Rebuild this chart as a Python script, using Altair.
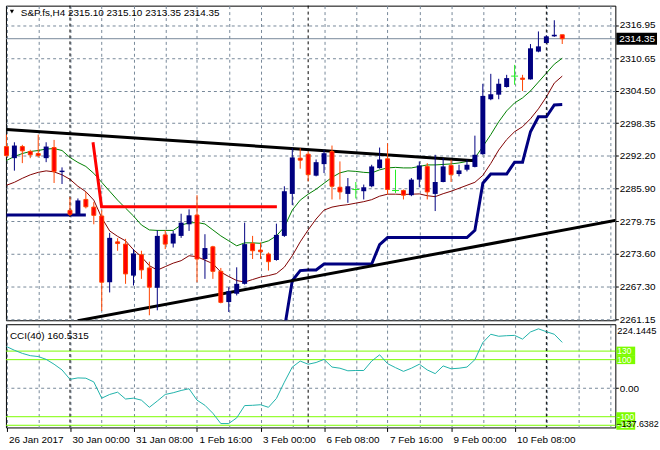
import altair as alt
import numpy as np
import pandas as pd

FONT = "Liberation Sans"
GRID = "#778899"
NAVY = "#000080"
BEAR_EDGE = "#FF4500"
BEAR_FILL = "#FF0000"
DOJI = "#22EE22"
MA_FAST_C = "#008000"
MA_SLOW_C = "#800000"
LEVEL_C = "#7CFC00"
CCI_C = "#20B2AA"

# ---------------- data ----------------
bars = list(range(71))
open_ = [2293.90, 2291.70, 2293.90, 2292.96, 2292.58, 2291.70, 2293.71, 2289.06, 2281.80, 2281.05,
         2283.87, 2282.42, 2280.73, 2268.17, 2275.83, 2275.40, 2269.43, 2273.39, 2270.88, 2267.12,
         2277.15, 2275.51, 2276.96, 2279.16, 2280.91, 2272.58, 2274.89, 2270.24, 2264.41, 2265.99,
         2267.87, 2275.51, 2274.27, 2273.52, 2272.39, 2276.96, 2284.92, 2291.70, 2292.45, 2288.38,
         2290.57, 2292.96, 2286.18, 2284.92, 2285.75, 2285.43, 2286.37, 2289.81, 2291.58, 2285.56,
         2285.56, 2284.68, 2287.63, 2290.13, 2284.92, 2287.18, 2290.32, 2288.69, 2289.51, 2290.04,
         2292.45, 2302.87, 2303.74, 2305.19, 2307.26, 2306.88, 2306.64, 2311.91, 2313.53, 2314.80,
         2315.10]
high_ = [2296.16, 2294.71, 2294.22, 2293.28, 2296.16, 2294.71, 2295.16, 2289.95, 2284.30, 2284.06,
         2285.30, 2283.36, 2281.80, 2277.53, 2276.53, 2276.40, 2274.46, 2274.14, 2272.07, 2278.03,
         2278.03, 2277.90, 2281.16, 2281.99, 2284.68, 2277.28, 2275.08, 2270.88, 2267.23, 2271.00,
         2279.47, 2276.96, 2275.70, 2273.82, 2279.28, 2286.37, 2293.58, 2293.58, 2292.96, 2291.45,
         2293.28, 2294.09, 2291.08, 2287.93, 2287.18, 2286.69, 2290.45, 2293.71, 2294.52, 2289.51,
         2285.75, 2287.93, 2291.08, 2290.76, 2292.34, 2291.70, 2291.40, 2290.45, 2291.40, 2295.97,
         2305.81, 2307.69, 2306.75, 2307.50, 2309.39, 2307.50, 2313.34, 2315.73, 2314.98, 2317.85,
         2315.10]
low_ = [2291.90, 2289.33, 2290.76, 2291.70, 2291.83, 2290.94, 2286.99, 2286.80, 2280.73, 2281.00,
        2282.17, 2279.16, 2262.72, 2266.24, 2274.14, 2267.87, 2267.55, 2268.81, 2261.91, 2262.85,
        2274.46, 2274.76, 2276.59, 2277.90, 2268.17, 2268.81, 2268.81, 2264.17, 2262.53, 2265.67,
        2267.74, 2272.58, 2272.58, 2270.38, 2272.26, 2276.77, 2282.80, 2289.70, 2287.31, 2288.25,
        2288.87, 2283.87, 2283.87, 2283.23, 2284.06, 2283.87, 2286.18, 2289.70, 2284.81, 2285.11,
        2283.87, 2284.49, 2286.18, 2283.87, 2281.67, 2287.12, 2287.18, 2288.25, 2289.19, 2289.95,
        2292.34, 2302.69, 2302.87, 2305.09, 2305.62, 2304.44, 2306.60, 2311.78, 2313.53, 2314.70,
        2313.35]
close_ = [2292.20, 2294.09, 2293.09, 2292.34, 2292.20, 2293.90, 2289.19, 2289.33, 2281.05, 2283.68,
          2282.48, 2280.86, 2268.17, 2276.59, 2275.51, 2269.75, 2273.63, 2270.51, 2267.23, 2276.96,
          2275.40, 2277.39, 2279.47, 2280.86, 2272.58, 2274.65, 2270.24, 2264.35, 2266.48, 2267.87,
          2275.40, 2274.14, 2273.95, 2272.07, 2277.15, 2285.43, 2291.83, 2291.32, 2288.57, 2290.94,
          2292.64, 2286.37, 2285.30, 2286.37, 2285.75, 2286.18, 2290.13, 2291.45, 2285.75, 2285.56,
          2284.68, 2287.63, 2290.32, 2285.30, 2287.18, 2290.13, 2288.57, 2289.38, 2290.45, 2292.34,
          2303.50, 2303.82, 2305.81, 2306.88, 2307.26, 2306.64, 2312.53, 2312.90, 2314.79, 2315.10,
          2314.35]
ma_fast = [2291.26, 2292.02, 2292.58, 2292.96, 2293.15, 2293.43, 2293.52, 2293.15, 2291.83, 2290.89,
           2290.13, 2288.82, 2287.12, 2285.43, 2283.74, 2282.23, 2280.73, 2279.03, 2278.09, 2278.00,
           2278.00, 2278.00, 2279.03, 2279.41, 2279.50, 2279.22, 2278.09, 2276.96, 2276.02, 2275.08,
           2275.64, 2275.64, 2275.55, 2276.02, 2276.96, 2278.66, 2281.85, 2283.74, 2284.87, 2285.81,
           2286.94, 2288.06, 2288.91, 2289.29, 2289.19, 2289.01, 2288.91, 2289.48, 2289.85, 2289.95,
           2289.85, 2289.85, 2290.13, 2290.42, 2290.42, 2290.51, 2290.61, 2290.79, 2291.08, 2291.73,
           2293.90, 2296.16, 2298.60, 2300.67, 2302.18, 2303.12, 2304.44, 2306.13, 2307.82, 2309.52,
           2310.65]
ma_slow = [2286.56, 2287.12, 2287.88, 2288.54, 2289.01, 2289.29, 2289.10, 2288.54, 2287.69, 2286.37,
           2285.34, 2283.74, 2280.40, 2277.90, 2276.87, 2276.02, 2274.33, 2273.01, 2271.32, 2270.47,
           2271.13, 2271.79, 2272.26, 2273.20, 2273.01, 2272.35, 2271.69, 2270.09, 2269.25, 2268.49,
           2268.21, 2268.68, 2269.15, 2269.43, 2269.81, 2271.03, 2273.20, 2275.83, 2278.09, 2280.16,
           2281.85, 2282.42, 2282.70, 2282.89, 2283.17, 2283.45, 2283.83, 2284.49, 2284.87, 2284.87,
           2284.81, 2284.87, 2284.92, 2284.58, 2284.40, 2284.96, 2285.43, 2285.99, 2286.56, 2287.12,
           2288.44, 2290.70, 2293.24, 2295.22, 2296.72, 2297.66, 2299.17, 2301.05, 2303.31, 2305.94,
           2307.26]
trail = ([2280.91, 2280.91, 2280.91, 2280.91, 2280.91, 2280.91, 2280.91, 2280.91, 2280.91, 2280.91,
          2280.91] + [None] * 24 +
         [2259.27, 2268.49, 2270.38, 2270.51, 2270.51, 2271.64, 2271.64, 2271.64, 2271.64, 2271.64,
          2271.64, 2271.64, 2275.30, 2276.64, 2276.64, 2276.64, 2276.64, 2276.64, 2276.64, 2276.64,
          2276.64, 2276.64, 2276.64, 2276.64, 2278.03, 2286.94, 2288.69, 2288.69, 2288.69, 2290.94,
          2290.94, 2296.72, 2299.54, 2299.54, 2301.80, 2301.86])
cci = [146, 133, 122, 114, 111, 101, 84, 64, 31, 36,
       35, 22, -35, -22, -14, -38, -35, -42, -67, -45,
       -22, -16, -8, -2, -42, -60, -88, -124, -124, -104,
       -61, -60, -58, -67, -36, 21, 74, 95, 84, 90,
       101, 74, 70, 61, 62, 62, 95, 117, 86, 72,
       59, 70, 84, 64, 51, 78, 68, 70, 74, 100,
       160, 189, 182, 184, 185, 172, 197, 208, 198, 189,
       160.5315]

# drawn objects (bar index, price)
trend_down_i = [0, 59]
trend_down_p = [2297.15, 2291.21]
trend_up_i = [9, 77]
trend_up_p = [2260.88, 2279.97]
red_line_i = [10.9, 11.98, 34.06]
red_line_p = [2294.71, 2282.48, 2282.48]

separators = [8, 38, 68]
price_ticks = [2316.95, 2310.65, 2304.50, 2298.35, 2292.20, 2285.90, 2279.75, 2273.60, 2267.30, 2261.15]
x_labels = ["26 Jan 2017", "30 Jan 00:00", "31 Jan 08:00", "1 Feb 16:00", "3 Feb 00:00",
            "6 Feb 08:00", "7 Feb 16:00", "9 Feb 00:00", "10 Feb 08:00"]
grid_bars = list(range(0, 77, 4))
cci_levels = [130, 100, -100, -130]
cci_min, cci_max = -137.6382, 224.1445
last_price = close_[-1]

# ---------------- frames ----------------
candles = pd.DataFrame({"i": bars, "open": open_, "high": high_, "low": low_, "close": close_})
candles["kind"] = np.where(candles.close > candles.open, "bull",
                           np.where(candles.close < candles.open, "bear", "doji"))
ma_df = pd.DataFrame({"i": bars, "fast": ma_fast, "slow": ma_slow})
rows, seg = [], 0
for i, v in zip(bars, trail):
    if v is None:
        seg += 1
        continue
    rows.append({"i": i, "p": v, "seg": seg})
trail_df = pd.DataFrame(rows)
trend_df = pd.DataFrame({"i": trend_down_i + trend_up_i, "p": trend_down_p + trend_up_p,
                         "line": ["down", "down", "up", "up"]})
red_df = pd.DataFrame({"i": red_line_i, "p": red_line_p})
sep_df = pd.DataFrame({"i": separators})
last_df = pd.DataFrame({"p": [last_price]})
cci_df = pd.DataFrame({"i": bars, "cci": cci})
lvl_df = pd.DataFrame({"lv": cci_levels})
title_df = pd.DataFrame({"t": ["S&P.fs,H4 %.2f %.2f %.2f %.2f" % (open_[-1], high_[-1], low_[-1], close_[-1])]})
cci_title_df = pd.DataFrame({"t": ["CCI(40) %.4f" % cci[-1]]})
cci_top_df = pd.DataFrame({"v": [cci_max]})
cci_bot_df = pd.DataFrame({"v": [cci_min]})

# ---------------- scales / axes ----------------
XS = alt.Scale(domain=[-0.0625, 76.6875], nice=False, zero=False)
YS = alt.Scale(domain=[2260.96, 2320.62], nice=False, zero=False)
CS = alt.Scale(domain=[cci_min, cci_max], nice=False, zero=False)

MX_AXIS = alt.Axis(values=grid_bars, grid=True, gridDash=[3, 3], gridColor=GRID, gridWidth=1,
                   labels=False, ticks=False, domain=False, title=None)
MY_AXIS = alt.Axis(orient="right", values=price_ticks, format=".2f", grid=True, gridDash=[3, 3],
                   gridColor=GRID, gridWidth=1, ticks=True, tickSize=3, tickColor="black",
                   domain=False, labelFont=FONT, labelFontSize=10, labelColor="black",
                   labelPadding=1, labelOverlap=False, labelFlush=False, title=None)
label_arr = "[" + ",".join("'%s'" % s for s in x_labels) + "]"
lab_test = "datum.value %% 8 === 0 && datum.value <= %d" % (8 * (len(x_labels) - 1))
CX_AXIS = alt.Axis(values=grid_bars, grid=True, gridDash=[3, 3], gridColor=GRID, gridWidth=1,
                   labelExpr="%s ? %s[datum.value / 8] : ''" % (lab_test, label_arr),
                   labelAlign="left", labelBaseline="top", labelPadding=3, labelOffset=2,
                   labelFont=FONT, labelFontSize=10, labelColor="black", labelOverlap=False,
                   labelFlush=False, labelBound=False, ticks=True, tickSize=4, tickColor="black",
                   tickOpacity={"condition": {"test": lab_test, "value": 1}, "value": 0},
                   domain=False, title=None)
CY_AXIS = alt.Axis(orient="right", values=[0], format=".2f", grid=True, gridDash=[3, 3],
                   gridColor=GRID, gridWidth=1, ticks=True, tickSize=3, tickColor="black",
                   domain=False, labelFont=FONT, labelFontSize=10, labelColor="black",
                   labelPadding=1, labelOverlap=False, labelFlush=False, title=None)


def mx(f):
    return alt.X(f + ":Q", scale=XS, axis=MX_AXIS)


def my(f):
    return alt.Y(f + ":Q", scale=YS, axis=MY_AXIS)


def cx(f):
    return alt.X(f + ":Q", scale=XS, axis=CX_AXIS)


def cy(f):
    return alt.Y(f + ":Q", scale=CS, axis=CY_AXIS)


# ---------------- main panel ----------------
fast_line = alt.Chart(ma_df).mark_line(color=MA_FAST_C, strokeWidth=1, clip=True).encode(x=mx("i"), y=my("fast"))
slow_line = alt.Chart(ma_df).mark_line(color=MA_SLOW_C, strokeWidth=1, clip=True).encode(x=mx("i"), y=my("slow"))
trail_line = alt.Chart(trail_df).mark_line(color=NAVY, strokeWidth=3, clip=True).encode(
    x=mx("i"), y=my("p"), detail="seg:N")
trend_lines = alt.Chart(trend_df).mark_line(color="black", strokeWidth=3, clip=True).encode(
    x=mx("i"), y=my("p"), detail="line:N")
red_line = alt.Chart(red_df).mark_line(color="#FF0000", strokeWidth=3, clip=True).encode(x=mx("i"), y=my("p"))
last_rule = alt.Chart(last_df).mark_rule(color=GRID, strokeWidth=1).encode(y=my("p"))
sep_main = alt.Chart(sep_df).mark_rule(color="black", strokeWidth=1, strokeDash=[3, 3]).encode(x=mx("i"))
wicks = alt.Chart(candles).mark_rule(strokeWidth=1).encode(
    x=mx("i"), y=my("low"), y2="high:Q",
    color=alt.Color("kind:N", scale=alt.Scale(domain=["bull", "bear", "doji"],
                                              range=[NAVY, BEAR_EDGE, DOJI]), legend=None))
bull_bodies = alt.Chart(candles).transform_filter("datum.close > datum.open").transform_calculate(
    xl="datum.i - 0.3125", xr="datum.i + 0.3125").mark_rect(color=NAVY).encode(
    x=mx("xl"), x2="xr:Q", y=my("open"), y2="close:Q")
bear_bodies = alt.Chart(candles).transform_filter("datum.close < datum.open").transform_calculate(
    xl="datum.i - 0.25", xr="datum.i + 0.25").mark_rect(fill=BEAR_FILL, stroke=BEAR_EDGE, strokeWidth=1).encode(
    x=mx("xl"), x2="xr:Q", y=my("open"), y2="close:Q")
doji = alt.Chart(candles).transform_filter("datum.close == datum.open").transform_calculate(
    xl="datum.i - 0.4375", xr="datum.i + 0.4375").mark_rule(color=DOJI, strokeWidth=1).encode(
    x=mx("xl"), x2="xr:Q", y=my("open"))
title_txt = alt.Chart(title_df).mark_text(align="left", baseline="middle", font=FONT, fontSize=10,
                                          color="black").encode(x=alt.value(15), y=alt.value(7), text="t:N")
tri = alt.Chart(title_df).mark_point(shape="triangle-down", filled=True, color="black", size=18,
                                     opacity=1).encode(x=alt.value(6), y=alt.value(6))
price_box = alt.Chart(last_df).mark_rect(color="black", yOffset=-6, y2Offset=6).encode(
    x=alt.value(615), x2=alt.value(656), y=my("p"), y2=alt.Y2("p"))
price_txt = alt.Chart(last_df).mark_text(align="left", baseline="middle", font=FONT, fontSize=10,
                                         color="white").encode(x=alt.value(618), y=my("p"),
                                                               text=alt.Text("p:Q", format=".2f"))

main = alt.layer(fast_line, slow_line, trail_line, trend_lines, red_line, last_rule, sep_main,
                 wicks, bull_bodies, bear_bodies, doji, title_txt, tri, price_box, price_txt
                 ).properties(width=614, height=317)

# ---------------- CCI panel ----------------
lvl_lines = alt.Chart(lvl_df).mark_rule(color=LEVEL_C, strokeWidth=1).encode(y=cy("lv"))
lvl_box = alt.Chart(lvl_df).mark_rect(color=LEVEL_C, yOffset=-4.5, y2Offset=4.5).encode(
    x=alt.value(615), x2=alt.value(634), y=cy("lv"), y2=alt.Y2("lv"))
lvl_txt = alt.Chart(lvl_df).mark_text(align="left", baseline="middle", font=FONT, fontSize=8.5,
                                      color="white").encode(x=alt.value(616), y=cy("lv"), text="lv:N")
cci_line = alt.Chart(cci_df).mark_line(color=CCI_C, strokeWidth=1).encode(x=cx("i"), y=cy("cci"))
sep_cci = alt.Chart(sep_df).mark_rule(color="black", strokeWidth=1, strokeDash=[3, 3]).encode(x=cx("i"))
cci_title = alt.Chart(cci_title_df).mark_text(align="left", baseline="middle", font=FONT, fontSize=10,
                                              color="black").encode(x=alt.value(4), y=alt.value(12), text="t:N")
cci_top = alt.Chart(cci_top_df).mark_text(align="left", baseline="middle", font=FONT, fontSize=9.5,
                                          color="black", dy=7).encode(
    x=alt.value(616), y=cy("v"), text=alt.Text("v:Q", format=".4f"))
cci_bot = alt.Chart(cci_bot_df).mark_text(align="left", baseline="middle", font=FONT, fontSize=9,
                                          color="black", dy=-3).encode(
    x=alt.value(615), y=cy("v"), text=alt.Text("v:Q", format=".4f"))

cci_panel = alt.layer(lvl_lines, sep_cci, cci_line, cci_title, lvl_box, lvl_txt, cci_top, cci_bot
                      ).properties(width=614, height=104)

chart = alt.vconcat(main, cci_panel, spacing=4, bounds="flush").resolve_scale(
    x="independent", y="independent").properties(
    padding={"left": 3, "top": 3, "right": 0, "bottom": 0}, background="white"
).configure_view(stroke="black", strokeWidth=1)

chart.save("out.html", embed_options={"renderer": "svg", "actions": False})
